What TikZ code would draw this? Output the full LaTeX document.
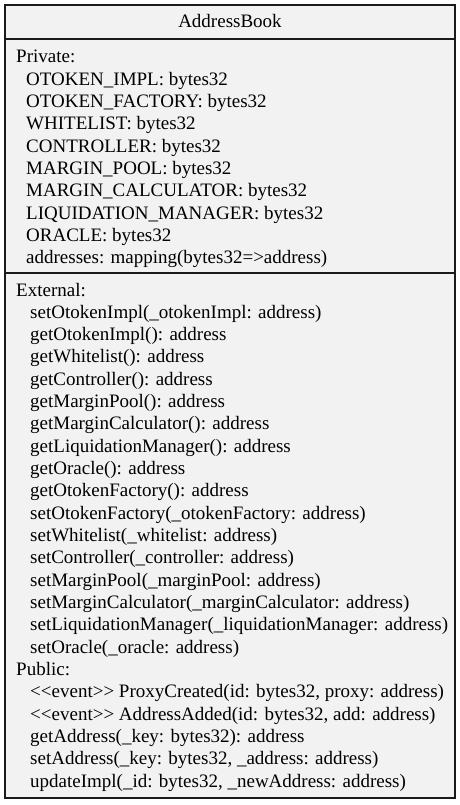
\documentclass[tikz,border=0pt]{standalone}
\usepackage{fontspec}
\newfontfamily\umlfont{Liberation Serif}
\definecolor{boxfill}{HTML}{F2F2F2}
\definecolor{boxline}{HTML}{1A1A1A}
\begin{document}
\begin{tikzpicture}[x=1pt,y=-1pt,
  boxborder/.style={draw=boxline, line width=1.3pt},
  txt/.style={anchor=base west, inner sep=0pt, font=\umlfont\fontsize{19}{22}\selectfont},
  ttl/.style={anchor=base, inner sep=0pt, font=\umlfont\fontsize{19}{22}\selectfont}]
\useasboundingbox (0,0) rectangle (460,805);
\draw[boxborder, fill=boxfill] (5,5) rectangle (455,798);
\draw[boxborder] (5,39) -- (455,39);
\draw[boxborder] (5,273) -- (455,273);
\node[ttl] (title) at (230,28) {AddressBook};
% Private section
\node[txt] (private) at (16,63) {Private:};
\foreach \t [count=\i] in {
  {OTOKEN\_IMPL: bytes32},
  {OTOKEN\_FACTORY: bytes32},
  {WHITELIST: bytes32},
  {CONTROLLER: bytes32},
  {MARGIN\_POOL: bytes32},
  {MARGIN\_CALCULATOR: bytes32},
  {LIQUIDATION\_MANAGER: bytes32},
  {ORACLE: bytes32},
  {addresses: mapping(bytes32=>address)}}
  \node[txt] (priv\i) at (26,63+22.33*\i) {\t};
% External / Public section
\node[txt] (external) at (16,296) {External:};
\foreach \t [count=\i] in {
  {setOtokenImpl(\_otokenImpl: address)},
  {getOtokenImpl(): address},
  {getWhitelist(): address},
  {getController(): address},
  {getMarginPool(): address},
  {getMarginCalculator(): address},
  {getLiquidationManager(): address},
  {getOracle(): address},
  {getOtokenFactory(): address},
  {setOtokenFactory(\_otokenFactory: address)},
  {setWhitelist(\_whitelist: address)},
  {setController(\_controller: address)},
  {setMarginPool(\_marginPool: address)},
  {setMarginCalculator(\_marginCalculator: address)},
  {setLiquidationManager(\_liquidationManager: address)},
  {setOracle(\_oracle: address)}}
  \node[txt] (ext\i) at (30,296+22.33*\i) {\t};
\node[txt] (public) at (16,296+22.33*17) {Public:};
\foreach \t [count=\i] in {
  {<\kern0pt<event>\kern0pt> ProxyCreated(id: bytes32, proxy: address)},
  {<\kern0pt<event>\kern0pt> AddressAdded(id: bytes32, add: address)},
  {getAddress(\_key: bytes32): address},
  {setAddress(\_key: bytes32, \_address: address)},
  {updateImpl(\_id: bytes32, \_newAddress: address)}}
  \node[txt] (pub\i) at (30,296+22.33*17+22.33*\i) {\t};
\end{tikzpicture}
\end{document}
